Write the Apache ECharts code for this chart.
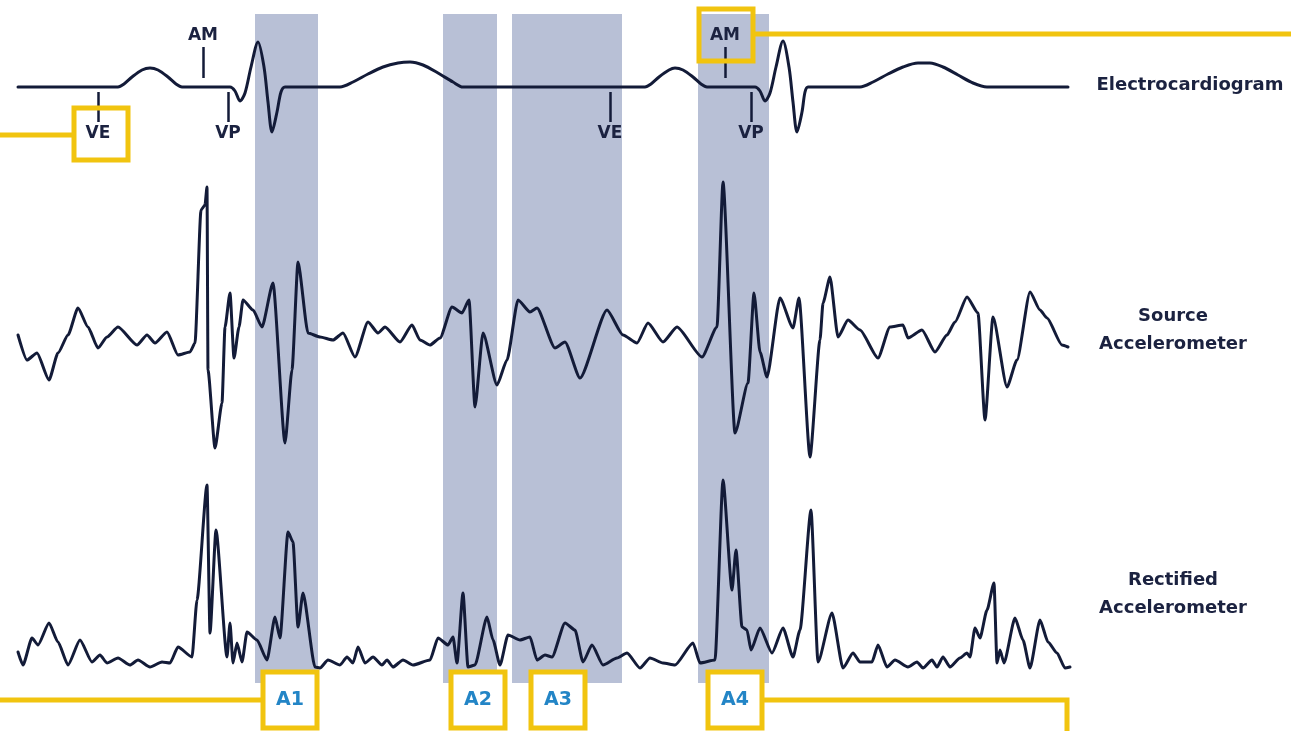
<!DOCTYPE html>
<html>
<head>
<meta charset="utf-8">
<script src="https://cdn.jsdelivr.net/npm/echarts@6/dist/echarts.min.js"></script>
<style>
  html, body { margin: 0; padding: 0; background: #ffffff; }
  #chart { width: 1291px; height: 731px; }
</style>
</head>
<body>
<div id="chart"></div>
<script>
// ---- time axis (ms) ----
const timeMin = 0;
const timeMax = 1052;

// ---- Electrocardiogram: [time ms, amplitude] ----
const ecgTime = [0,100,106,114,124,132,140,150,158,164,212,217,222,227,233,240,246,250,254,259,263,267,322,335,350,365,380,392,405,420,435,445,627,633,641,651,657,665,675,683,689,737,742,747,752,758,765,771,775,779,784,787,790,842,855,870,885,900,912,925,940,955,969,1050];
const ecgValue = [0,0,0.06,0.2,0.34,0.38,0.34,0.2,0.06,0,0,-0.08,-0.28,-0.12,0.4,0.9,0.4,-0.3,-0.9,-0.5,-0.1,0,0,0.1,0.26,0.4,0.48,0.5,0.44,0.28,0.1,0,0,0.06,0.2,0.34,0.38,0.34,0.2,0.06,0,0,-0.08,-0.28,-0.12,0.4,0.92,0.4,-0.3,-0.9,-0.5,-0.1,0,0,0.1,0.26,0.4,0.48,0.48,0.4,0.24,0.08,0,0];

// ---- Source accelerometer ----
const srcTime = [0,9,19,31,40,50,60,70,80,89,100,119,129,137,149,160,172,177,183,187,189,190,197,204,207,212,216,221,225,235,244,255,267,274,280,290,302,315,325,337,350,360,367,382,394,402,412,422,434,444,451,457,465,479,489,500,512,519,537,547,562,589,605,619,630,645,659,684,699,705,717,730,736,742,749,762,775,781,792,802,805,812,820,830,842,860,872,885,890,904,917,929,937,949,960,967,975,989,999,1012,1022,1029,1044,1050];
const srcValue = [-0.05,-0.30,-0.23,-0.50,-0.23,-0.05,0.22,0.03,-0.18,-0.07,0.03,-0.15,-0.05,-0.13,-0.02,-0.25,-0.22,-0.13,1.20,1.25,1.43,-0.40,-1.18,-0.73,0.03,0.37,-0.28,0.03,0.30,0.20,0.03,0.47,-1.13,-0.40,0.68,-0.03,-0.07,-0.10,-0.03,-0.27,0.08,-0.03,0.03,-0.12,0.05,-0.10,-0.15,-0.08,0.23,0.17,0.30,-0.77,-0.03,-0.55,-0.30,0.30,0.18,0.22,-0.18,-0.12,-0.48,0.20,-0.05,-0.13,0.07,-0.12,0.03,-0.27,0.03,1.48,-1.03,-0.53,0.37,-0.22,-0.47,0.32,0.02,0.32,-1.27,-0.10,0.27,0.53,-0.07,0.10,0.00,-0.28,0.03,0.05,-0.08,0.00,-0.22,-0.05,0.08,0.33,0.17,-0.90,0.13,-0.57,-0.30,0.38,0.20,0.12,-0.15,-0.17];

// ---- Rectified accelerometer ----
const rectTime = [0,5,14,20,31,40,50,62,74,82,89,100,112,120,132,144,152,160,174,179,189,192,198,209,212,215,219,224,229,239,249,257,262,270,275,280,285,297,302,310,322,329,335,340,347,355,364,369,375,385,395,412,420,430,435,439,445,450,457,469,475,482,490,502,512,519,527,534,547,557,565,574,585,599,609,622,632,645,657,675,682,697,705,714,718,724,729,733,742,754,765,775,782,793,800,814,825,835,842,854,860,869,877,890,899,905,914,919,925,932,942,949,952,957,962,969,976,979,982,986,997,1005,1012,1022,1030,1039,1047,1052];
const rectValue = [0.18,0.05,0.32,0.25,0.47,0.28,0.05,0.30,0.08,0.15,0.07,0.12,0.05,0.10,0.03,0.08,0.07,0.23,0.13,0.70,1.85,0.37,1.40,0.13,0.47,0.07,0.27,0.08,0.38,0.30,0.10,0.53,0.32,1.38,1.28,0.43,0.77,0.03,0.02,0.10,0.05,0.13,0.07,0.23,0.07,0.13,0.05,0.10,0.03,0.10,0.05,0.10,0.32,0.25,0.33,0.07,0.77,0.03,0.05,0.53,0.30,0.05,0.35,0.30,0.33,0.10,0.15,0.13,0.47,0.40,0.08,0.25,0.05,0.12,0.17,0.02,0.12,0.07,0.05,0.27,0.07,0.10,1.90,0.80,1.20,0.43,0.40,0.20,0.42,0.17,0.42,0.13,0.40,1.60,0.08,0.57,0.02,0.17,0.08,0.08,0.25,0.03,0.10,0.03,0.08,0.02,0.10,0.03,0.13,0.03,0.12,0.17,0.13,0.42,0.32,0.60,0.87,0.07,0.20,0.07,0.52,0.30,0.02,0.50,0.28,0.17,0.02,0.03];

// ---- shaded analysis windows ----
const bandNames = ['A1','A2','A3','A4'];
const bandStart = [237,425,494,680];
const bandEnd = [300,479,604,751];
const bandLabelTime = [272,460,540,717];

// ---- ECG event markers ----
const markerNames = ['VE','AM','VP','VE','AM','VP'];
const markerTime = [80,185,210,592,707,733];
const markerFrom = [-0.1,0.18,-0.1,-0.1,0.18,-0.1];
const markerTo = [-0.7,0.8,-0.7,-0.7,0.8,-0.7];

// ---- trace titles ----
const traceTitles = ['Electrocardiogram','Source\nAccelerometer','Rectified\nAccelerometer'];

const navy = '#131b38';
const textNavy = '#1b2240';
const yellow = '#f1c40f';
const blue = '#2385c6';
const band = '#b8c0d6';
const font = 'DejaVu Sans';

const zip = (a, b) => a.map((v, i) => [v, b[i]]);

const gridPos = [
  {left: 18, right: 221, top: 14, height: 669},
  {left: 18, right: 221, top: 37, height: 100},
  {left: 18, right: 221, top: 170, height: 300},
  {left: 18, right: 221, top: 470, height: 200}
];
const yRanges = [[0,1],[-1,1],[-1.4,1.6],[0,2]];

const chart = echarts.init(document.getElementById('chart'), null, {renderer: 'canvas'});

const lineSeries = (idx, data, smooth, mono) => ({
  type: 'line', xAxisIndex: idx, yAxisIndex: idx, data: data,
  showSymbol: false, symbol: 'none', smooth: smooth, smoothMonotone: mono, clip: false,
  lineStyle: {color: navy, width: 3, cap: 'round', join: 'round'},
  silent: true, z: 3
});

const option = {
  animation: false,
  backgroundColor: '#ffffff',
  grid: gridPos,
  xAxis: gridPos.map((g, i) => ({type: 'value', gridIndex: i, min: timeMin, max: timeMax, show: false})),
  yAxis: yRanges.map((r, i) => ({type: 'value', gridIndex: i, min: r[0], max: r[1], show: false})),
  series: [
    {
      type: 'line', xAxisIndex: 0, yAxisIndex: 0, data: [], silent: true, z: 1,
      markArea: {
        silent: true,
        itemStyle: {color: band, opacity: 1},
        data: bandStart.map((s, i) => [{xAxis: s}, {xAxis: bandEnd[i]}])
      }
    },
    Object.assign(lineSeries(1, zip(ecgTime, ecgValue), 0.3, null), {
      markLine: {
        silent: true, symbol: ['none','none'], animation: false,
        lineStyle: {color: navy, width: 2.5, type: 'solid'},
        label: {show: true, position: 'end', formatter: '{b}', color: textNavy, fontFamily: font, fontWeight: 'bold', fontSize: 17, distance: 3},
        data: markerNames.map((n, i) => [
          {name: n, coord: [markerTime[i], markerFrom[i]]},
          {coord: [markerTime[i], markerTo[i]]}
        ])
      }
    }),
    lineSeries(2, zip(srcTime, srcValue), 0.2, 'x'),
    lineSeries(3, zip(rectTime, rectValue), 0.2, 'x')
  ]
};
chart.setOption(option);

// ---- annotations positioned through the axes ----
const px = t => chart.convertToPixel({xAxisIndex: 0}, t);
const W = 1291, H = 731;
const graphics = [];
const box = (cx, y, w, h, fill) => ({
  type: 'rect', z: 50, silent: true,
  shape: {x: cx - w / 2, y: y, width: w, height: h},
  style: {fill: fill, stroke: yellow, lineWidth: 5}
});
const seg = (pts) => ({
  type: 'polyline', z: 50, silent: true,
  shape: {points: pts},
  style: {stroke: yellow, lineWidth: 5, fill: null}
});

// VE box (first ventricular event) + lead line
const veX = px(markerTime[0]) + 3;
graphics.push(box(veX, 108, 54, 52, null));
graphics.push(seg([[0, 135], [veX - 27, 135]]));
// AM box (second) + lead line
const amX = px(markerTime[4]) + 1;
graphics.push(box(amX, 9, 54, 52, null));
graphics.push(seg([[amX + 27, 34], [W, 34]]));

// A boxes
bandNames.forEach((n, i) => {
  const cx = px(bandLabelTime[i]);
  graphics.push(box(cx, 672, 54, 56, '#ffffff'));
  graphics.push({
    type: 'text', z: 51, silent: true,
    style: {text: n, x: cx, y: 700, align: 'center', verticalAlign: 'middle',
      fill: blue, font: 'bold 19px "' + font + '"'}
  });
});
const a1Left = px(bandLabelTime[0]) - 27;
const a4Right = px(bandLabelTime[3]) + 27;
graphics.push(seg([[0, 700], [a1Left, 700]]));
graphics.push(seg([[a4Right, 700], [1067, 700], [1067, H + 5]]));

// trace titles
const titlePos = [[1190, 85], [1173, 330], [1173, 594]];
traceTitles.forEach((t, i) => {
  graphics.push({
    type: 'text', z: 51, silent: true,
    style: {text: t, x: titlePos[i][0], y: titlePos[i][1], align: 'center', verticalAlign: 'middle',
      fill: textNavy, font: 'bold 18px "' + font + '"', lineHeight: 28}
  });
});

chart.setOption({graphic: graphics});
</script>
</body>
</html>
